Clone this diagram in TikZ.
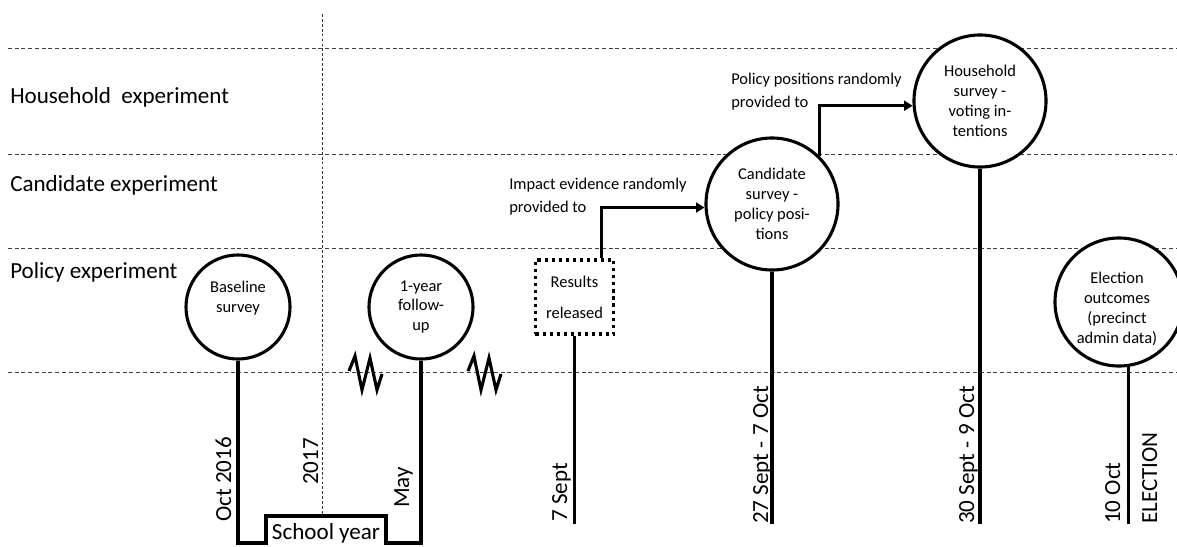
\documentclass[tikz,border=0pt]{standalone}
\usepackage{fontspec}
\setmainfont{Carlito}
\usetikzlibrary{arrows.meta,calc}
\newcommand{\rowfont}{\fontsize{16.4}{20}\selectfont}
\newcommand{\boxfont}{\fontsize{11.7}{14.2}\selectfont}
\newcommand{\notefont}{\fontsize{11.7}{16.5}\selectfont}

\begin{document}
\begin{tikzpicture}[x=0.025cm,y=-0.025cm,
  rowline/.style={draw=black!75,line width=0.7pt,dash pattern=on 2.8pt off 2pt},
  yearline/.style={draw=black!80,line width=0.6pt,dash pattern=on 2pt off 1.5pt},
  rowlabel/.style={anchor=west,font=\rowfont,inner sep=0pt},
  event/.style={circle,draw,line width=2.2pt,fill=white,align=center,inner sep=0pt,font=\boxfont},
  eventtext/.style={align=center,inner sep=0pt,font=\boxfont},
  release/.style={draw,line width=2.2pt,dash pattern=on 2.2pt off 2.8pt,fill=white,align=center,
    minimum width=1.95cm,minimum height=1.85cm,inner sep=0pt,font=\boxfont},
  note/.style={anchor=west,align=left,inner sep=0pt,font=\notefont},
  datelabel/.style={rotate=90,anchor=base west,inner sep=0pt,font=\rowfont},
  link/.style={line width=2.2pt},
  arr/.style={line width=2.2pt,-{Triangle[length=6pt,width=7pt]}},
  zig/.style={line width=2.2pt,line join=miter}]

\useasboundingbox (0,0) rectangle (1177,546);

\foreach \y in {48,154,248,372}
  \draw[rowline] (8,\y) -- (1177,\y);
\draw[yearline] (322,14) -- (322,516);

\node[rowlabel] (rowhh) at (10,97) {Household\ \ experiment};
\node[rowlabel] (rowcand) at (10,185) {Candidate experiment};
\node[rowlabel] (rowpol) at (10,272) {Policy experiment};

\coordinate (bot) at (0,524);
\coordinate (low) at (0,543);
\coordinate (yrL) at (266,516);
\coordinate (yrR) at (386,516);

\node[event,minimum size=2.6cm] (base) at (238,307) {};
\node[eventtext] (basetext) at (238,298) {Baseline\\survey};
\node[event,minimum size=2.6cm] (follow) at (421,307) {1-year\\follow-\\up};
\node[release] (res) at (574.5,297) {Results\\[8pt]released};
\node[event,minimum size=3.3cm] (csurv) at (772,204) {Candidate\\survey -\\policy posi-\\tions};
\node[event,minimum size=3.3cm] (hsurv) at (980,101) {Household\\survey -\\voting in-\\tentions};
\node[event,minimum size=3.2cm] (elec) at (1119,302) {};
\node[eventtext] (electext) at (1117,309) {Election\\outcomes\\(precinct\\admin data)};

\node[font=\rowfont,inner sep=0pt] (school) at (326,533) {School year};

\draw[link] (base.south) -- (base.south |- low) -| (yrL) -| (yrR |- low) -| (follow.south);
\draw[link] (res.south) -- (res.south |- bot);
\draw[link] (csurv.south) -- (csurv.south |- bot);
\draw[link] (hsurv.south) -- (hsurv.south |- bot);
\draw[link] (elec.-82) -- (elec.-82 |- bot);

\node[note] (impnote) at (509,197) {Impact evidence randomly\\provided to};
\node[note] (posnote) at (731,92) {Policy positions randomly\\provided to};

\draw[arr] ($(res.north)+(27,0)$) |- (csurv.183);
\draw[arr] (csurv.45) |- (hsurv.184);

\foreach \dx in {0,119}
  \draw[zig] (349+\dx,371) -- (355+\dx,356) -- (362+\dx,390) -- (370+\dx,358)
    -- (377+\dx,390) -- (382+\dx,374);

\node[datelabel] (oct16) at (231,522) {Oct 2016};
\node[datelabel] (yr17) at (318,485) {2017};
\node[datelabel] (may) at (409,508) {May};
\node[datelabel] (sep7) at (567,522) {7 Sept};
\node[datelabel] (candwk) at (768,524) {27 Sept - 7 Oct};
\node[datelabel] (hhwk) at (974,524) {30 Sept - 9 Oct};
\node[datelabel] (oct10) at (1120,524) {10 Oct};
\node[datelabel] (elect) at (1157,524) {ELECTION};

\end{tikzpicture}
\end{document}
